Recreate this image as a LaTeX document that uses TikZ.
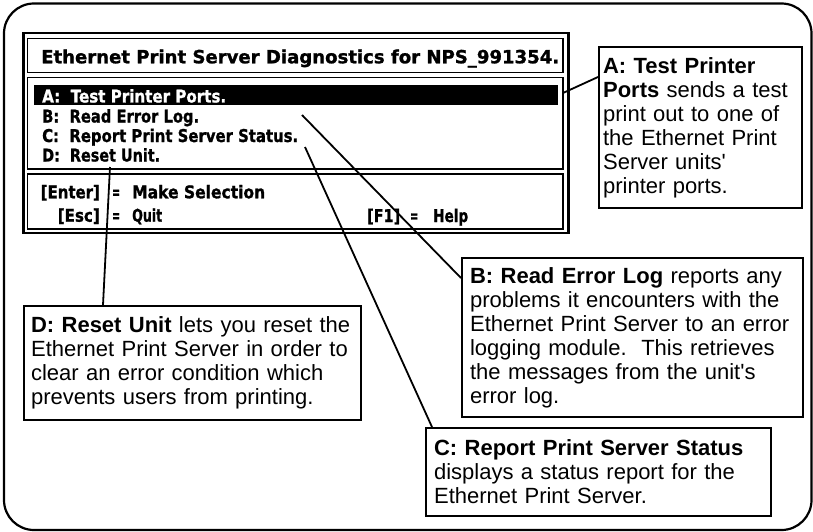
\documentclass[tikz,border=0pt]{standalone}
\usepackage{fontspec}
\usepackage{graphicx}
\setmainfont{Liberation Sans}
\newfontfamily\scrfont{DejaVu Sans}[BoldFeatures={FakeBold=1.2}]
\usetikzlibrary{calc}
\newcommand{\scr}[2]{\resizebox{#1pt}{\height}{\fontsize{17.6}{20}\selectfont\scrfont\bfseries #2}}
\newcommand{\scrbig}[2]{\resizebox{#1pt}{\height}{\fontsize{18.2}{20}\selectfont\scrfont\bfseries #2}}
\begin{document}
\begin{tikzpicture}[x=1pt,y=-1pt,
  callout/.style={draw, line width=2.2pt, anchor=north west, align=left,
    font=\fontsize{22}{24}\selectfont, inner ysep=0pt},
  conn/.style={line width=1.8pt},
  scrline/.style={line width=1.7pt},
  scrtext/.style={anchor=base west, inner sep=0pt},
  scrtextr/.style={anchor=base east, inner sep=0pt}]
\useasboundingbox (0,0) rectangle (813,532);
\draw[line width=2.2pt, rounded corners=30pt] (4,3.5) rectangle (811.5,530);

% screen frames
\draw[line width=2.6pt] (23.7,33.2) rectangle (568.3,233);
\draw[scrline] (27.5,38.4) rectangle (563.2,72.5);
\draw[scrline] (27.5,77.5) rectangle (563.2,169.2);
\draw[scrline] (27.5,174.2) rectangle (563.2,229);
\node (bar) [fill=black, anchor=north west, minimum width=524.7pt, minimum height=20pt, inner sep=0pt] at (33.3,85.3) {};

% screen texts
\node (title) [scrtext] at (41,63.3) {\scrbig{518}{Ethernet Print Server Diagnostics for NPS\_991354.}};
\node (ma) [scrtext, text=white] at (42,102.5) {\scr{184}{A:\ \ Test Printer Ports.}};
\node (mb) [scrtext] at (42,122.5) {\scr{157}{B:\ \ Read Error Log.}};
\node (mc) [scrtext] at (42,142) {\scr{256}{C:\ \ Report Print Server Status.}};
\node (md) [scrtext] at (42,161.5) {\scr{118}{D:\ \ Reset Unit.}};
\node (kenter) [scrtextr] at (100,198.3) {\scr{59}{[Enter]}};
\node (keq1) [scrtext] at (112,198.3) {\scr{8}{=}};
\node (kmake) [scrtext] at (132,198.3) {\scr{133}{Make Selection}};
\node (kesc) [scrtextr] at (100,221.7) {\scr{42}{[Esc]}};
\node (keq2) [scrtext] at (112,221.7) {\scr{8}{=}};
\node (kquit) [scrtext] at (132,221.7) {\scr{30}{Quit}};
\node (kf1) [scrtext] at (367,222) {\scr{33}{[F1]}};
\node (keq3) [scrtext] at (410,222) {\scr{8}{=}};
\node (khelp) [scrtext] at (433,222) {\scr{35}{Help}};

% callouts
\node (abox) [callout, inner xsep=4pt, text width=195pt, minimum height=161pt] at (598,46)
  {\textbf{A: Test Printer}\\\textbf{Ports} sends a test\\print out to one of\\the Ethernet Print\\Server units\textquotesingle\\printer ports.};
\node (bbox) [callout, inner xsep=8pt, text width=325pt, minimum height=159pt] at (461,257)
  {\textbf{B: Read Error Log} reports any\\problems it encounters with the\\Ethernet Print Server to an error\\logging module.\ \ This retrieves\\the messages from the unit\textquotesingle s\\error log.};
\node (cbox) [callout, inner xsep=8pt, text width=329pt, minimum height=88pt] at (425,427)
  {\textbf{C: Report Print Server Status}\\displays a status report for the\\Ethernet Print Server.};
\node (dbox) [callout, inner xsep=7pt, text width=323pt, minimum height=114pt] at (23,305)
  {\textbf{D: Reset Unit} lets you reset the\\Ethernet Print Server in order to\\clear an error condition which\\prevents users from printing.};

% connectors
\coordinate (aS) at (563,93);
\coordinate (bS) at (302,115);
\coordinate (cS) at (305,147);
\coordinate (dS) at (110,167);
\draw[conn] (aS) -- ($(abox.north west)+(0,31)$);
\draw[conn] (bS) -- ($(bbox.north west)+(0,21)$);
\draw[conn] (cS) -- ($(cbox.north west)+(7,0)$);
\draw[conn] (dS) -- ($(dbox.north west)+(80,0)$);
\end{tikzpicture}
\end{document}
